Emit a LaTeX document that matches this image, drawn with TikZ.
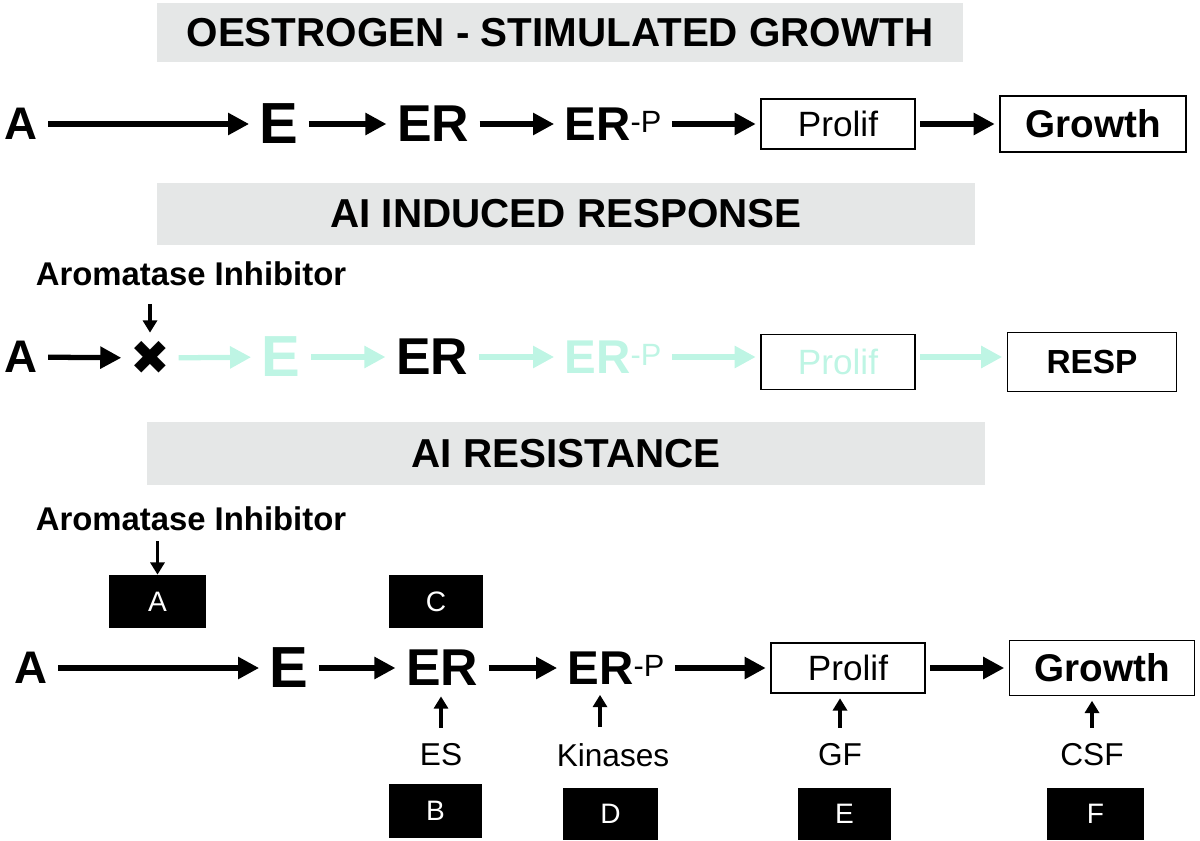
\documentclass[tikz,border=0pt]{standalone}
\usepackage{fontspec}
\setmainfont{Liberation Sans}
\newfontfamily\symfont{DejaVu Sans}
\usetikzlibrary{arrows.meta}
\definecolor{bargray}{RGB}{229,231,231}
\definecolor{mint}{RGB}{190,245,228}
\newcommand{\fsz}[1]{\fontsize{#1}{#1}\selectfont}
\newcommand{\erp}{ER\raisebox{4.5pt}{\mdseries\fsz{17.5}-P}}

\begin{document}
\begin{tikzpicture}[x=0.02cm,y=-0.02cm,>={Triangle[length=12pt,width=12pt]},
  bar/.style={fill=bargray,inner sep=0pt,font=\bfseries\fsz{23}},
  letter/.style={inner sep=0pt,outer sep=6pt,font=\bfseries\fsz{#1}},
  stepbox/.style={draw,line width=1.1pt,inner sep=0pt,outer sep=3pt,minimum width=3.08cm},
  tagbox/.style={fill=black,text=white,inner sep=0pt,font=\fsz{16}},
  note/.style={inner sep=0pt,font=\fsz{18}},
  flow/.style={->,line width=3pt},
  faded/.style={flow,draw=mint},
  smallarrow/.style={->,>={Triangle[length=7pt,width=8pt]},line width=1.8pt}]

  \useasboundingbox (0,0) rectangle (1200,841);

  \node[bar,minimum width=16.12cm,minimum height=1.18cm] (T1) at (560,32.5) {OESTROGEN - STIMULATED GROWTH};
  \node[bar,minimum width=16.36cm,minimum height=1.24cm] (T2) at (566,214) {AI INDUCED RESPONSE};
  \node[bar,minimum width=16.76cm,minimum height=1.26cm] (T3) at (566,453.5) {AI RESISTANCE};

  % oestrogen stimulated growth
  \node[letter=26] (A1) at (21,124) {A};
  \node[letter=33] (E1) at (279,124) {E};
  \node[letter=29.5] (ER1) at (433,124) {ER};
  \node[letter=27] (ERP1) at (613,124) {\erp};
  \node[stepbox,minimum height=1cm,font=\fsz{20}] (prolif1) at (838,124) {Prolif};
  \node[stepbox,minimum width=3.72cm,minimum height=1.12cm,font=\bfseries\fsz{22}] (growth1) at (1093,124) {Growth};

  \path (A1) edge[flow] (E1)
        (E1) edge[flow] (ER1)
        (ER1) edge[flow] (ERP1)
        (ERP1) edge[flow] (prolif1)
        (prolif1) edge[flow] (growth1);

  % AI induced response
  \node[note,font=\bfseries\fsz{18.7}] (inh2) at (191,274) {Aromatase Inhibitor};
  \node[letter=26] (A2) at (21,357) {A};
  \node[inner sep=0pt,outer sep=5pt,font=\symfont\fsz{27}] (X2) at (150,358) {✖};
  \node[letter=33,text=mint] (E2) at (281,357) {E};
  \node[letter=29.5] (ER2) at (432,357) {ER};
  \node[letter=27,text=mint] (ERP2) at (613,357) {\erp};
  \node[stepbox,minimum height=1.1cm,font=\fsz{20},text=mint] (prolif2) at (838,362) {Prolif};
  \node[stepbox,minimum width=3.38cm,minimum height=1.18cm,font=\bfseries\fsz{19}] (resp2) at (1092,362) {RESP};

  \draw[smallarrow,shorten <=10pt] (inh2.south -| X2) -- (X2.north);
  \path (A2) edge[flow] (X2)
        (X2) edge[faded] (E2)
        (E2) edge[faded] (ER2)
        (ER2) edge[faded] (ERP2)
        (ERP2) edge[faded] (prolif2.west |- ERP2)
        (prolif2.east |- ERP2) edge[faded] (resp2.west |- ERP2);

  % AI resistance
  \node[note,font=\bfseries\fsz{18.7}] (inh3) at (191,519) {Aromatase Inhibitor};
  \node[tagbox,minimum width=1.94cm,minimum height=1.06cm] (tagA) at (157.5,601.5) {A};
  \node[tagbox,minimum width=1.88cm,minimum height=1.06cm] (tagC) at (436,601.5) {C};
  \node[letter=26] (A3) at (31,668) {A};
  \node[letter=33] (E3) at (289,668) {E};
  \node[letter=29.5] (ER3) at (442,668) {ER};
  \node[letter=27] (ERP3) at (616,668) {\erp};
  \node[stepbox,minimum height=1cm,font=\fsz{20}] (prolif3) at (848,668) {Prolif};
  \node[stepbox,minimum width=3.7cm,minimum height=1.1cm,font=\bfseries\fsz{22}] (growth3) at (1102,668) {Growth};

  \draw[smallarrow,shorten <=5.5pt] (inh3.south -| tagA) -- (tagA.north);
  \path (A3) edge[flow] (E3)
        (E3) edge[flow] (ER3)
        (ER3) edge[flow] (ERP3)
        (ERP3) edge[flow] (prolif3)
        (prolif3) edge[flow] (growth3);

  \node[note] (es) at (441,755) {ES};
  \node[note] (kin) at (613,755) {Kinases};
  \node[note] (gf) at (840,755) {GF};
  \node[note] (csf) at (1092,755) {CSF};
  \node[tagbox,minimum width=1.86cm,minimum height=1.08cm] (tagB) at (435.5,811) {B};
  \node[tagbox,minimum width=1.9cm,minimum height=1.04cm] (tagD) at (610.5,814) {D};
  \node[tagbox,minimum width=1.86cm,minimum height=1.04cm] (tagE) at (844.5,814) {E};
  \node[tagbox,minimum width=1.94cm,minimum height=1.04cm] (tagF) at (1095.5,814) {F};

  \draw[smallarrow,shorten <=9pt] (es.north) -- (es.north |- ER3.south);
  \draw[smallarrow,shorten <=9pt] ([xshift=-0.26cm]kin.north) -- ([xshift=-0.26cm]kin.north |- ERP3.south);
  \draw[smallarrow,shorten <=9pt] (gf.north) -- (gf.north |- prolif3.south);
  \draw[smallarrow,shorten <=9pt] (csf.north) -- (csf.north |- growth3.south);
\end{tikzpicture}
\end{document}
